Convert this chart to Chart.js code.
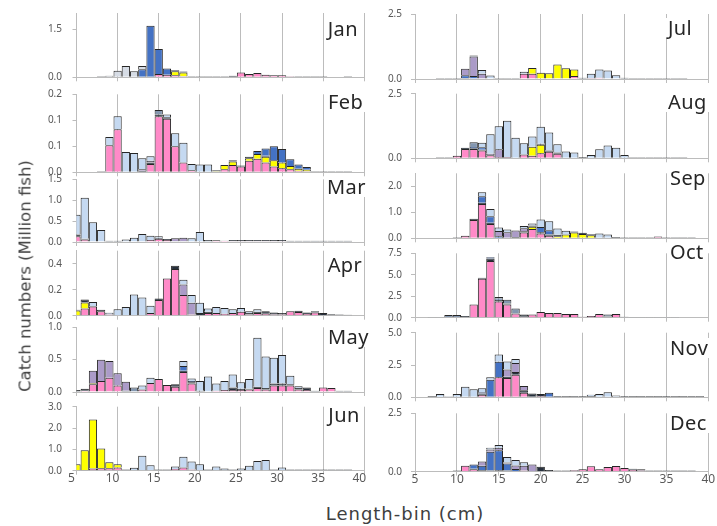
<!DOCTYPE html>
<html><head><meta charset="utf-8">
<script src="https://cdn.jsdelivr.net/npm/chart.js@4.4.1/dist/chart.umd.min.js"></script>
<style>
html,body{margin:0;padding:0;background:#fff}
body{width:717px;height:526px;position:relative;overflow:hidden;font-family:'Noto Sans',sans-serif}
canvas{position:absolute}
.mon{position:absolute;font-size:20px;line-height:20px;color:#262626;background:#fff;padding:0 2px;white-space:nowrap;letter-spacing:0.4px}
.ttl{position:absolute;color:#404040;white-space:nowrap;font-family:'DejaVu Sans',sans-serif}
</style></head><body>
<script>
// length bins (cm), 5..39
const BINS = [5,6,7,8,9,10,11,12,13,14,15,16,17,18,19,20,21,22,23,24,25,26,27,28,29,30,31,32,33,34,35,36,37,38,39];

// ---- January
const JAN_PINK   = [0,0,0,0,0, 0,0,0,0,0, 0.1,0.08,0.06,0.03,0, 0,0,0,0,0.02, 0.15,0.1,0.13,0.08,0.06, 0.06,0.03,0,0,0, 0,0,0,0,0];
const JAN_YELLOW = [0,0,0,0,0, 0,0,0,0,0, 0,0,0.13,0.12,0, 0,0,0,0,0, 0,0,0,0,0, 0,0,0,0,0, 0,0,0,0,0];
const JAN_NAVY   = [0,0,0,0.03,0, 0,0,0,0,0, 0,0,0.03,0.03,0.03, 0.03,0.03,0.03,0.03,0.03, 0,0,0,0,0, 0,0,0.03,0.03,0.03, 0.03,0,0,0.03,0];
const JAN_DBLUE  = [0,0,0,0,0, 0,0,0,0.25,1.6, 0.78,0.19,0,0,0, 0,0,0,0,0, 0,0,0,0,0, 0,0,0,0,0, 0,0,0,0,0];
const JAN_GREY   = [0,0,0,0,0.05, 0.2,0.35,0.19,0.1,0, 0,0,0,0,0, 0,0,0,0,0, 0,0,0,0,0, 0,0,0,0,0, 0,0,0,0,0];
const JAN_TICKS = [0, 1.5];
const JAN_TICK_LABELS = ['0.0', '1.5'];

// ---- February
const FEB_PINK   = [0,0,0,0,0.052, 0.083,0,0,0,0.016, 0.108,0.103,0.05,0.019,0.004, 0,0,0,0.006,0.014, 0.011,0.022,0.026,0.019,0.011, 0.008,0.006,0.003,0.002,0, 0,0,0,0,0];
const FEB_YELLOW = [0,0,0,0,0, 0,0,0,0,0, 0,0,0,0,0, 0,0,0.002,0.008,0.007, 0,0.005,0.009,0.011,0.012, 0.011,0.006,0.004,0.003,0, 0,0,0,0,0];
const FEB_NAVY   = [0,0,0,0.002,0, 0,0,0,0.003,0.003, 0.003,0.003,0,0,0, 0,0,0.002,0,0.002, 0.002,0.003,0,0.002,0, 0,0,0,0,0.002, 0.002,0.002,0.002,0.002,0];
const FEB_DBLUE  = [0,0,0,0,0, 0,0,0,0,0, 0,0,0,0,0, 0,0,0,0,0, 0,0,0.006,0.014,0.027, 0.026,0.013,0.008,0.005,0, 0,0,0,0,0];
const FEB_PURPLE = [0,0,0,0,0, 0,0,0,0.003,0.003, 0,0,0,0,0, 0,0,0,0,0, 0,0,0,0,0, 0,0,0,0,0, 0,0,0,0,0];
const FEB_SLATE  = [0,0,0,0,0, 0,0,0,0,0, 0.009,0,0,0,0, 0,0,0,0,0, 0,0,0,0,0, 0,0,0,0,0, 0,0,0,0,0];
const FEB_LBLUE  = [0,0,0,0,0.016, 0.025,0.039,0.037,0.021,0.009, 0,0.005,0.025,0.038,0.012, 0.015,0.015,0,0,0, 0,0,0,0,0, 0,0,0,0,0, 0,0,0,0,0];
const FEB_TICKS = [0, 0.05, 0.1, 0.15];
const FEB_TICK_LABELS = ['0.0', '0.1', '0.1', '0.2'];

// ---- March
const MAR_PINK   = [0.14,0.06,0,0,0, 0,0,0,0,0.05, 0.08,0.05,0,0,0, 0,0,0.04,0.03,0.02, 0.02,0.02,0.02,0.02,0.02, 0.02,0,0,0,0, 0,0,0,0,0];
const MAR_NAVY   = [0.04,0.02,0,0,0.03, 0.03,0,0,0,0, 0.02,0.02,0.02,0.02,0, 0,0,0,0,0.03, 0.03,0.03,0.03,0.03,0.03, 0.03,0.03,0.03,0.03,0.03, 0.03,0.03,0.03,0.03,0];
const MAR_PURPLE = [0,0,0,0,0, 0,0,0,0,0, 0,0,0.07,0.08,0, 0,0,0,0,0, 0,0,0,0,0, 0,0,0,0,0, 0,0,0,0,0];
const MAR_SLATE  = [0,0,0,0,0, 0,0,0,0,0, 0,0,0,0,0, 0,0.05,0,0,0, 0,0,0,0,0, 0,0,0,0,0, 0,0,0,0,0];
const MAR_LBLUE  = [0.47,0.98,0.47,0.29,0, 0,0.06,0.1,0.19,0.1, 0.04,0,0,0,0.09, 0.24,0,0,0,0, 0,0,0,0,0, 0,0,0,0,0, 0,0,0,0,0];
const MAR_TICKS = [0, 0.5, 1, 1.5];
const MAR_TICK_LABELS = ['0.0', '0.5', '1.0', '1.5'];

// ---- April
const APR_PINK   = [0,0.056,0.07,0.035,0.01, 0,0,0,0,0.02, 0.12,0.287,0.36,0.16,0.01, 0,0.02,0.02,0.015,0.02, 0.03,0.01,0.02,0.015,0.01, 0.01,0.035,0.028,0.014,0.025, 0,0,0,0,0];
const APR_YELLOW = [0.04,0.045,0,0,0, 0,0,0,0,0, 0,0,0,0,0, 0,0,0,0,0, 0,0,0,0,0, 0,0,0,0,0, 0,0,0,0,0];
const APR_NAVY   = [0.005,0.024,0.005,0.01,0, 0,0,0,0,0, 0.013,0,0.025,0,0, 0.02,0.01,0,0,0, 0,0.01,0.01,0.02,0.014, 0.01,0,0.01,0.01,0.01, 0.02,0.012,0.01,0.008,0];
const APR_PURPLE = [0,0,0,0,0, 0,0,0,0,0, 0,0,0,0.08,0.09, 0,0,0,0,0, 0,0,0,0,0, 0,0,0,0,0, 0,0,0,0,0];
const APR_LBLUE  = [0,0,0.03,0,0.013, 0.05,0.067,0.164,0.14,0.057, 0,0,0,0.037,0.06, 0.08,0.026,0.047,0.045,0.03, 0.03,0.015,0.02,0,0, 0,0,0,0,0, 0,0,0,0,0];
const APR_TICKS = [0, 0.2, 0.4];
const APR_TICK_LABELS = ['0.0', '0.2', '0.4'];

// ---- May
const MAY_PINK   = [0,0.02,0.12,0.17,0.22, 0.1,0,0,0.04,0.14, 0.2,0.11,0.08,0.31,0.13, 0,0,0.02,0.03,0.03, 0.03,0.04,0.06,0.04,0.1, 0.1,0.1,0.04,0.03,0, 0.07,0.06,0,0,0];
const MAY_YELLOW = [0,0,0.015,0,0, 0,0,0,0,0, 0,0,0,0,0, 0,0,0,0,0, 0,0,0,0,0, 0,0,0,0,0, 0,0,0,0,0];
const MAY_NAVY   = [0.03,0.03,0,0,0, 0,0.02,0,0,0, 0,0,0.04,0.02,0.02, 0.02,0,0,0,0.04, 0.02,0.01,0.02,0.02,0.03, 0.03,0.02,0.02,0.04,0.02, 0,0,0.02,0.02,0];
const MAY_DBLUE  = [0,0,0,0,0, 0,0,0,0,0, 0,0,0,0.07,0.02, 0,0,0,0,0, 0,0,0,0,0, 0,0,0,0,0, 0,0,0,0,0];
const MAY_PURPLE = [0,0,0.195,0.33,0.26, 0.19,0.14,0,0,0, 0,0,0,0,0, 0,0,0,0,0, 0,0,0,0,0, 0,0,0,0,0, 0,0,0,0,0];
const MAY_SLATE  = [0,0,0,0,0, 0,0,0.07,0,0, 0,0,0,0,0, 0,0,0,0,0, 0,0,0,0,0, 0,0,0,0,0, 0,0,0,0,0];
const MAY_LBLUE  = [0,0,0,0,0, 0,0,0,0.06,0.08, 0,0,0,0.08,0.04, 0.15,0.24,0.11,0.14,0.2, 0.1,0.15,0.76,0.49,0.4, 0.44,0.13,0.03,0,0, 0,0,0,0,0];
const MAY_TICKS = [0, 0.5, 1];
const MAY_TICK_LABELS = ['0.0', '0.5', '1.0'];

// ---- June
const JUN_PINK   = [0,0.03,0.1,0.12,0.12, 0.15,0,0,0,0, 0,0,0.08,0.15,0.06, 0,0,0,0,0, 0,0,0,0,0, 0,0,0,0,0, 0,0,0,0,0];
const JUN_YELLOW = [0.3,0.93,2.3,0.92,0.28, 0.15,0,0,0,0, 0,0,0,0,0, 0,0,0,0,0, 0,0,0,0,0, 0,0,0,0,0, 0,0,0,0,0];
const JUN_NAVY   = [0,0,0,0,0, 0,0.06,0,0,0, 0.06,0.06,0,0,0, 0,0.06,0,0,0.06, 0,0,0,0,0.06, 0,0.06,0.06,0.06,0.06, 0.06,0.06,0.06,0.06,0];
const JUN_LBLUE  = [0,0,0,0,0, 0,0,0.14,0.7,0.26, 0,0,0.12,0.5,0.37, 0.3,0,0.2,0.1,0, 0.1,0.23,0.45,0.5,0, 0.15,0,0,0,0, 0,0,0,0,0];
const JUN_TICKS = [0, 1, 2, 3];
const JUN_TICK_LABELS = ['0.0', '1.0', '2.0', '3.0'];

// ---- July
const JUL_PINK   = [0,0,0,0,0, 0,0,0,0,0, 0,0,0,0.2,0.2, 0,0,0,0,0.12, 0,0.04,0.05,0,0, 0,0,0,0,0, 0,0,0,0,0];
const JUL_YELLOW = [0,0,0,0,0, 0,0,0,0,0, 0,0,0,0,0.22, 0.24,0.22,0.56,0.41,0.25, 0,0,0,0,0, 0,0,0,0,0, 0,0,0,0,0];
const JUL_NAVY   = [0,0,0,0.04,0.04, 0.04,0.04,0,0,0, 0.04,0.04,0.04,0,0, 0,0,0,0,0, 0.05,0,0,0,0, 0.05,0.04,0.04,0.04,0.04, 0.04,0.04,0.04,0,0];
const JUL_DBLUE  = [0,0,0,0,0, 0,0.1,0.12,0,0, 0,0,0,0,0, 0,0,0,0,0, 0,0,0,0,0, 0,0,0,0,0, 0,0,0,0,0];
const JUL_PURPLE = [0,0,0,0,0, 0,0.25,0.75,0.2,0, 0,0,0,0,0, 0,0,0,0,0, 0,0,0,0,0, 0,0,0,0,0, 0,0,0,0,0];
const JUL_SLATE  = [0,0,0,0,0, 0,0,0.03,0,0, 0,0,0,0,0, 0,0,0,0,0, 0,0,0,0,0, 0,0,0,0,0, 0,0,0,0,0];
const JUL_LBLUE  = [0,0,0,0,0, 0,0,0,0.15,0.13, 0,0,0,0.08,0, 0,0,0,0,0, 0,0.16,0.32,0.33,0.14, 0,0,0,0,0, 0,0,0,0,0];
const JUL_TICKS = [0, 2.5];
const JUL_TICK_LABELS = ['0.0', '2.5'];

// ---- August
const AUG_PINK   = [0,0,0,0,0, 0.1,0.36,0.36,0.3,0.12, 0.05,0.05,0,0.15,0.1, 0.2,0.25,0.18,0,0, 0,0,0,0,0, 0,0,0,0,0, 0,0,0,0,0];
const AUG_YELLOW = [0,0,0,0,0, 0,0,0,0,0, 0,0,0,0,0.35, 0.32,0,0,0,0, 0,0,0,0,0, 0,0,0,0,0, 0,0,0,0,0];
const AUG_NAVY   = [0,0,0,0.04,0.04, 0,0.05,0.03,0.03,0, 0,0,0,0,0, 0.04,0.05,0.04,0,0, 0.05,0,0,0,0, 0,0.04,0.04,0.04,0.04, 0.04,0.04,0.04,0,0];
const AUG_DBLUE  = [0,0,0,0,0, 0,0,0.05,0.1,0, 0,0,0,0,0, 0,0,0,0,0, 0,0,0,0,0, 0,0,0,0,0, 0,0,0,0,0];
const AUG_PURPLE = [0,0,0,0,0, 0,0,0,0,0.06, 0.3,0,0,0,0, 0,0,0,0,0, 0,0,0,0,0, 0,0,0,0,0, 0,0,0,0,0];
const AUG_SLATE  = [0,0,0,0,0, 0,0,0.18,0,0, 0,0,0,0,0, 0,0,0,0,0, 0,0,0,0,0, 0,0,0,0,0, 0,0,0,0,0];
const AUG_LBLUE  = [0,0,0,0,0, 0,0,0,0.17,0.75, 0.89,1.4,0.8,0.43,0.39, 0.66,0.7,0.32,0.26,0.22, 0,0.13,0.35,0.5,0.41, 0.13,0,0,0,0, 0,0,0,0,0];
const AUG_TICKS = [0, 2.5];
const AUG_TICK_LABELS = ['0.0', '2.5'];

// ---- September
const SEP_PINK   = [0,0,0,0,0, 0,0.1,0.7,1.32,0.55, 0,0,0,0.22,0.36, 0.18,0.1,0,0,0, 0,0,0,0,0, 0,0,0,0,0.07, 0,0,0,0,0];
const SEP_YELLOW = [0,0,0,0,0, 0,0,0,0,0, 0,0,0,0,0.08, 0,0,0.08,0.15,0.22, 0.17,0.12,0,0,0, 0,0,0,0,0, 0,0,0,0,0];
const SEP_NAVY   = [0,0,0,0,0, 0.04,0,0.05,0.05,0.05, 0,0,0.05,0.05,0.05, 0.05,0.05,0.06,0,0.04, 0.04,0.04,0,0,0.05, 0.04,0.04,0.04,0.04,0, 0.04,0.04,0.04,0.04,0];
const SEP_DBLUE  = [0,0,0,0,0, 0,0,0,0.25,0.25, 0.08,0,0,0,0, 0.2,0.16,0,0,0, 0,0,0,0,0, 0,0,0,0,0, 0,0,0,0,0];
const SEP_PURPLE = [0,0,0,0,0, 0,0,0,0,0, 0.2,0.23,0.25,0.12,0, 0,0,0,0,0, 0,0,0,0,0, 0,0,0,0,0, 0,0,0,0,0];
const SEP_LBLUE  = [0,0,0,0,0, 0,0,0,0.15,0.28, 0.14,0.11,0,0.08,0.08, 0.29,0.35,0.24,0.14,0, 0,0,0.18,0.15,0, 0,0,0,0,0, 0,0,0,0,0];
const SEP_TICKS = [0, 1, 2];
const SEP_TICK_LABELS = ['0.0', '1.0', '2.0'];

// ---- October
const OCT_PINK   = [0,0,0,0,0, 0,0,1.54,4.55,6.6, 1.9,1.55,0.5,0.1,0.38, 0.65,0.54,0.54,0.42,0.42, 0.1,0.19,0.42,0,0.42, 0,0,0,0,0, 0,0,0,0,0];
const OCT_NAVY   = [0,0,0.08,0.08,0, 0,0.2,0,0.1,0.3, 0.2,0.1,0,0.28,0, 0,0,0,0,0, 0,0,0,0.15,0, 0.1,0.08,0.08,0.08,0.08, 0.08,0.08,0,0,0];
const OCT_DBLUE  = [0,0,0,0,0, 0,0,0,0,0.15, 0.1,0,0,0,0, 0,0,0,0,0, 0,0,0,0,0, 0,0,0,0,0, 0,0,0,0,0];
const OCT_SLATE  = [0,0,0,0,0.3, 0.3,0,0,0,0, 0.2,0.45,0.58,0,0, 0,0,0,0,0, 0,0,0,0.23,0, 0,0,0,0,0, 0,0,0,0,0];
const OCT_TICKS = [0, 2.5, 5, 7.5];
const OCT_TICK_LABELS = ['0.0', '2.5', '5.0', '7.5'];

// ---- November
const NOV_PINK   = [0,0,0,0,0, 0,0,0,0.2,0, 1.55,1.5,1.75,0.35,0, 0.1,0,0,0,0, 0,0,0,0,0, 0,0,0,0,0, 0,0,0,0,0];
const NOV_NAVY   = [0,0,0.1,0,0, 0,0,0,0.1,0, 0,0.1,0.2,0.2,0.3, 0.16,0,0.1,0.1,0.1, 0.1,0.1,0,0,0, 0.1,0.1,0.1,0.1,0.1, 0.1,0.1,0.1,0.1,0.1];
const NOV_DBLUE  = [0,0,0,0,0, 0,0,0,0.1,1.35, 1.2,0,0,0,0, 0,0.36,0,0,0, 0,0,0,0,0, 0,0,0,0,0, 0,0,0,0,0];
const NOV_PURPLE = [0,0,0,0,0, 0,0,0,0,0, 0,0.55,0.7,0.33,0, 0,0,0,0,0, 0,0,0,0,0, 0,0,0,0,0, 0,0,0,0,0];
const NOV_LBLUE  = [0,0,0,0.26,0.08, 0.26,0.82,0.62,0.3,0.2, 0.57,0.63,0.31,0,0, 0,0,0,0,0, 0,0.1,0.26,0.4,0.14, 0,0,0,0,0, 0,0,0,0,0];
const NOV_TICKS = [0, 2.5, 5];
const NOV_TICK_LABELS = ['0.0', '2.5', '5.0'];

// ---- December
const DEC_PINK   = [0,0,0,0,0, 0,0.26,0.1,0,0, 0,0,0,0.05,0, 0,0,0,0,0.06, 0.11,0.23,0.11,0.2,0.24, 0.16,0.08,0.05,0,0, 0,0,0,0,0];
const DEC_NAVY   = [0,0,0,0,0, 0.05,0,0.03,0.06,0.05, 0.06,0.05,0,0,0, 0.21,0.07,0.05,0.05,0, 0,0,0,0,0, 0,0.05,0.05,0.05,0.05, 0.05,0.05,0.05,0.05,0];
const DEC_DBLUE  = [0,0,0,0,0, 0,0,0.18,0.2,0.8, 0.86,0.3,0.12,0,0, 0,0,0,0,0, 0,0,0,0,0, 0,0,0,0,0, 0,0,0,0,0];
const DEC_PURPLE = [0,0,0,0,0, 0,0,0,0.18,0.1, 0.1,0.04,0.15,0.2,0.31, 0,0,0,0,0, 0,0,0,0,0, 0,0,0,0,0, 0,0,0,0,0];
const DEC_LBLUE  = [0,0,0,0,0, 0,0,0,0,0.08, 0.12,0.24,0.23,0.15,0, 0,0,0,0,0, 0,0,0,0,0, 0,0,0,0,0, 0,0,0,0,0];
const DEC_TICKS = [0, 2.5];
const DEC_TICK_LABELS = ['0.0', '2.5'];

const X_TICKS = [5, 10, 15, 20, 25, 30, 35, 40];

// ---- styles & layout
const COLORS = {pink:'#ff8ac8', yellow:'#ffff00', navy:'#27303d', dblue:'#4472c4', purple:'#ab9bc8', slate:'#8497b0', lblue:'#c5d9f1', grey:'#d6dce5'};
const ORDER = ['pink','yellow','navy','dblue','purple','slate','lblue','grey'];
const COLS = [
  {left:0, width:380, axisW:76.5, padR:15.7, tickPad:10.5, labelOffset:-5},
  {left:360, width:357, axisW:55, padR:8.7, tickPad:9, labelOffset:0}
];
const PANELS = [
  {name:'Jan', col:0, top:13,    bottom:77.3,  max:2,    ticks:JAN_TICKS, labels:JAN_TICK_LABELS, lx:327.7, ly:22.7, series:{pink:JAN_PINK, yellow:JAN_YELLOW, navy:JAN_NAVY, dblue:JAN_DBLUE, grey:JAN_GREY}},
  {name:'Feb', col:0, top:94.3,  bottom:172.3, max:0.15, ticks:FEB_TICKS, labels:FEB_TICK_LABELS, lx:328, ly:95, series:{pink:FEB_PINK, yellow:FEB_YELLOW, navy:FEB_NAVY, dblue:FEB_DBLUE, purple:FEB_PURPLE, slate:FEB_SLATE, lblue:FEB_LBLUE}},
  {name:'Mar', col:0, top:179.3, bottom:242,   max:1.5,  ticks:MAR_TICKS, labels:MAR_TICK_LABELS, lx:327, ly:180, series:{pink:MAR_PINK, navy:MAR_NAVY, purple:MAR_PURPLE, slate:MAR_SLATE, lblue:MAR_LBLUE}},
  {name:'Apr', col:0, top:250.7, bottom:315.7, max:0.5,  ticks:APR_TICKS, labels:APR_TICK_LABELS, lx:327.7, ly:258.3, series:{pink:APR_PINK, yellow:APR_YELLOW, navy:APR_NAVY, purple:APR_PURPLE, lblue:APR_LBLUE}},
  {name:'May', col:0, top:327.3, bottom:392,   max:1,    ticks:MAY_TICKS, labels:MAY_TICK_LABELS, lx:328, ly:330, series:{pink:MAY_PINK, yellow:MAY_YELLOW, navy:MAY_NAVY, dblue:MAY_DBLUE, purple:MAY_PURPLE, slate:MAY_SLATE, lblue:MAY_LBLUE}},
  {name:'Jun', col:0, top:406.7, bottom:470.7, max:3,    ticks:JUN_TICKS, labels:JUN_TICK_LABELS, lx:328.3, ly:408.3, bottomAxis:true, series:{pink:JUN_PINK, yellow:JUN_YELLOW, navy:JUN_NAVY, lblue:JUN_LBLUE}},
  {name:'Jul', col:1, top:14,    bottom:79,    max:2.5,  ticks:JUL_TICKS, labels:JUL_TICK_LABELS, lx:668, ly:21.7, series:{pink:JUL_PINK, yellow:JUL_YELLOW, navy:JUL_NAVY, dblue:JUL_DBLUE, purple:JUL_PURPLE, slate:JUL_SLATE, lblue:JUL_LBLUE}},
  {name:'Aug', col:1, top:93.7,  bottom:158.3, max:2.5,  ticks:AUG_TICKS, labels:AUG_TICK_LABELS, lx:668, ly:95, series:{pink:AUG_PINK, yellow:AUG_YELLOW, navy:AUG_NAVY, dblue:AUG_DBLUE, purple:AUG_PURPLE, slate:AUG_SLATE, lblue:AUG_LBLUE}},
  {name:'Sep', col:1, top:173.3, bottom:238.3, max:2.5,  ticks:SEP_TICKS, labels:SEP_TICK_LABELS, lx:670, ly:171.7, series:{pink:SEP_PINK, yellow:SEP_YELLOW, navy:SEP_NAVY, dblue:SEP_DBLUE, purple:SEP_PURPLE, lblue:SEP_LBLUE}},
  {name:'Oct', col:1, top:253.3, bottom:317.7, max:7.5,  ticks:OCT_TICKS, labels:OCT_TICK_LABELS, lx:670, ly:245, series:{pink:OCT_PINK, navy:OCT_NAVY, dblue:OCT_DBLUE, slate:OCT_SLATE}},
  {name:'Nov', col:1, top:332.7, bottom:397.3, max:5,    ticks:NOV_TICKS, labels:NOV_TICK_LABELS, lx:670, ly:341.7, series:{pink:NOV_PINK, navy:NOV_NAVY, dblue:NOV_DBLUE, purple:NOV_PURPLE, lblue:NOV_LBLUE}},
  {name:'Dec', col:1, top:413.3, bottom:471.7, max:2.5,  ticks:DEC_TICKS, labels:DEC_TICK_LABELS, lx:670, ly:416.7, bottomAxis:true, series:{pink:DEC_PINK, navy:DEC_NAVY, dblue:DEC_DBLUE, purple:DEC_PURPLE, lblue:DEC_LBLUE}}
];

Chart.defaults.font.family = "'Noto Sans', sans-serif";
const GRID = '#bcbcbc';
const MARGIN = 19; // room reserved above/below each plot (y tick label half height + tick padding)

PANELS.forEach(p => {
  const c = COLS[p.col];
  const xH = p.bottomAxis ? 22 : 4;
  const cTop = Math.floor(p.top - MARGIN);
  const padTop = p.top - cTop;
  const padBottom = Math.max(MARGIN - xH, 2);
  const cH = Math.ceil(p.bottom - cTop + xH + padBottom);
  const padBottomExact = cH - (p.bottom - cTop) - xH;
  const cv = document.createElement('canvas');
  cv.width = c.width; cv.height = cH;
  cv.style.left = c.left + 'px'; cv.style.top = cTop + 'px';
  cv.style.width = c.width + 'px'; cv.style.height = cH + 'px';
  document.body.appendChild(cv);

  const datasets = ORDER.filter(k => p.series[k]).map(k => ({
    label: k,
    data: p.series[k].map((v, i) => ({x: BINS[i], y: v})),
    backgroundColor: COLORS[k],
    borderColor: '#262626',
    borderWidth: 1,
    borderSkipped: 'start',
    inflateAmount: 0,
    barPercentage: 1,
    categoryPercentage: 1,
    clip: 0
  }));

  new Chart(cv, {
    type: 'bar',
    data: {datasets},
    options: {
      responsive: false, animation: false, devicePixelRatio: 1,
      layout: {padding: {left: 0, right: c.padR, top: padTop, bottom: padBottomExact}},
      plugins: {legend: {display: false}, tooltip: {enabled: false}},
      scales: {
        x: {
          type: 'linear', min: 5, max: 40, stacked: true, offset: false,
          afterFit: s => { s.height = xH; },
          afterBuildTicks: s => { s.ticks = X_TICKS.map(v => ({value: v})); },
          ticks: {display: !!p.bottomAxis, autoSkip: false, maxRotation: 0, font: {size: 12}, color: '#595959', padding: -3, labelOffset: c.labelOffset},
          grid: {offset: false, color: GRID, lineWidth: 1, drawTicks: true, tickLength: 4},
          border: {color: GRID}
        },
        y: {
          type: 'linear', stacked: true, min: 0, max: p.max,
          afterFit: s => { s.width = c.axisW; },
          afterBuildTicks: s => { s.ticks = p.ticks.map(v => ({value: v})); },
          ticks: {callback: (v, i) => p.labels[i], autoSkip: false, font: {size: 10}, color: '#595959', padding: c.tickPad},
          grid: {drawOnChartArea: false, drawTicks: true, tickLength: 4, color: GRID},
          border: {color: GRID}
        }
      }
    }
  });

  const m = document.createElement('div');
  m.className = 'mon';
  m.textContent = p.name;
  m.style.left = (p.lx - 2) + 'px';
  m.style.top = (p.ly - 3.5) + 'px';
  document.body.appendChild(m);
});

const yt = document.createElement('div');
yt.className = 'ttl';
yt.style.fontSize = '16.5px';
yt.textContent = 'Catch numbers (Million fish)';
yt.style.left = '25px'; yt.style.top = '276px';
yt.style.transform = 'translate(-50%,-50%) rotate(-90deg)';
document.body.appendChild(yt);

const xt = document.createElement('div');
xt.className = 'ttl';
xt.style.fontSize = '18px';
xt.style.letterSpacing = '1px';
xt.textContent = 'Length-bin (cm)';
xt.style.left = '405px'; xt.style.top = '513px';
xt.style.transform = 'translate(-50%,-50%)';
document.body.appendChild(xt);
</script>
</body></html>
